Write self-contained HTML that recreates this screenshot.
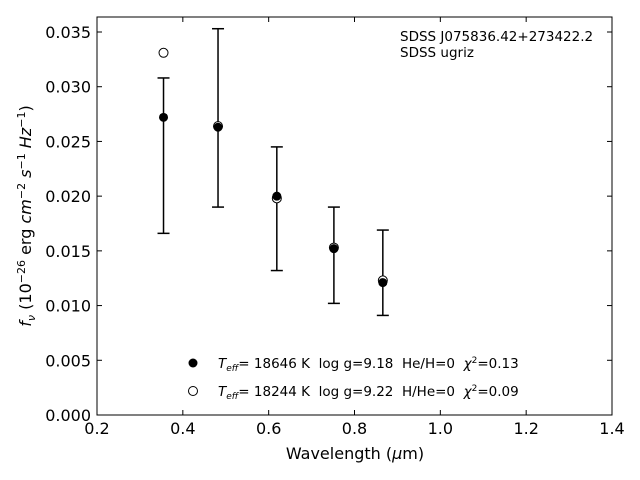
<!DOCTYPE html>
<html><head><meta charset="utf-8"><style>
body{margin:0;background:#fff}
svg{display:block;font-family:"DejaVu Sans","Liberation Sans",sans-serif}
text{white-space:pre}
</style></head><body>
<svg id="chart" width="640" height="480" viewBox="0 0 640 480">
<rect width="640" height="480" fill="#fff"/>
<g id="marks"></g>
<rect x="97" y="17" width="515" height="398" fill="none" stroke="#000" stroke-width="1"/>
<g id="axes"></g>
<text x="355" y="459" font-size="16" text-anchor="middle">Wavelength (<tspan font-style="italic">μ</tspan>m)</text>
<text transform="translate(31,216) rotate(-90)" font-size="16" text-anchor="middle"><tspan font-style="italic">f</tspan><tspan font-style="italic" font-size="11" dy="4">ν</tspan><tspan dy="-4"> (10</tspan><tspan font-size="11" dy="-6">−26</tspan><tspan dy="6"> erg </tspan><tspan font-style="italic">cm</tspan><tspan font-size="11" dy="-6">−2</tspan><tspan dy="6" font-style="italic"> s</tspan><tspan font-size="11" dy="-6">−1</tspan><tspan dy="6" font-style="italic"> Hz</tspan><tspan font-size="11" dy="-6">−1</tspan><tspan dy="6">)</tspan></text>
<text x="400" y="41" font-size="13.5">SDSS J075836.42+273422.2</text>
<text x="400" y="57" font-size="13.5">SDSS ugriz</text>
<g>
<circle cx="193" cy="363" r="4.5" fill="#000"/>
<text x="218" y="368" font-size="13.5" xml:space="preserve"><tspan font-style="italic">T</tspan><tspan font-style="italic" font-size="9" dy="3">eff</tspan><tspan dy="-3">= 18646 K  log g=9.18  He/H=0  </tspan><tspan font-style="italic">χ</tspan><tspan font-size="9" dy="-5">2</tspan><tspan dy="5">=0.13</tspan></text>
<circle cx="193" cy="391" r="4.5" fill="#fff" stroke="#000"/>
<text x="218" y="396" font-size="13.5" xml:space="preserve"><tspan font-style="italic">T</tspan><tspan font-style="italic" font-size="9" dy="3">eff</tspan><tspan dy="-3">= 18244 K  log g=9.22  H/He=0  </tspan><tspan font-style="italic">χ</tspan><tspan font-size="9" dy="-5">2</tspan><tspan dy="5">=0.09</tspan></text>
</g>
</svg>
<script>
const wavelengths=[0.355,0.482,0.619,0.752,0.866];
const observedFlux=[0.0272,0.0263,0.0200,0.0152,0.0121];
const errLow=[0.0166,0.0190,0.0132,0.0102,0.0091];
const errHigh=[0.0308,0.0353,0.0245,0.0190,0.0169];
const modelFlux=[0.0331,0.0264,0.0198,0.0153,0.0123];
const xTicks=[0.2,0.4,0.6,0.8,1.0,1.2,1.4];
const yTicks=[0,0.005,0.010,0.015,0.020,0.025,0.030,0.035];
const NS="http://www.w3.org/2000/svg";
const X=v=>97+(v-0.2)/1.2*515;
const Y=v=>415-v/0.035*383;
function mk(tag,attrs,parent){const e=document.createElementNS(NS,tag);for(const k in attrs)e.setAttribute(k,attrs[k]);parent.appendChild(e);return e;}
const ax=document.getElementById('axes'),mg=document.getElementById('marks');
xTicks.forEach(t=>{
  const x=X(t);
  const l1=mk('line',{x1:x,x2:x,y1:415,y2:410,stroke:'#000'},ax);
  
  
  const l2=mk('line',{x1:x,x2:x,y1:17,y2:22,stroke:'#000'},ax);
  
  
  const tx=mk('text',{x:x,y:434,'font-size':16,'text-anchor':'middle'},ax);
  tx.textContent=t.toFixed(1);
  
  
});
yTicks.forEach(t=>{
  const y=Y(t);
  const l1=mk('line',{x1:97,x2:102,y1:y,y2:y,stroke:'#000'},ax);
  
  
  const l2=mk('line',{x1:607,x2:612,y1:y,y2:y,stroke:'#000'},ax);
  
  
  const tx=mk('text',{x:91,y:y+6,'font-size':16,'text-anchor':'end'},ax);
  tx.textContent=t.toFixed(3);
  
  
});
wavelengths.forEach((w,i)=>{
  const x=X(w);
  const g=mk('g',{},mg);
  
  
  mk('line',{x1:x,x2:x,y1:Y(errLow[i]),y2:Y(errHigh[i]),stroke:'#000','stroke-width':1.5},g);
  mk('line',{x1:x-6,x2:x+6,y1:Y(errLow[i]),y2:Y(errLow[i]),stroke:'#000','stroke-width':1.5},g);
  mk('line',{x1:x-6,x2:x+6,y1:Y(errHigh[i]),y2:Y(errHigh[i]),stroke:'#000','stroke-width':1.5},g);
  const o=mk('circle',{cx:x,cy:Y(modelFlux[i]),r:4.5,fill:'#fff',stroke:'#000'},mg);
  
  
  const f=mk('circle',{cx:x,cy:Y(observedFlux[i]),r:4.5,fill:'#000'},mg);
  
  
});
</script>
</body></html>
